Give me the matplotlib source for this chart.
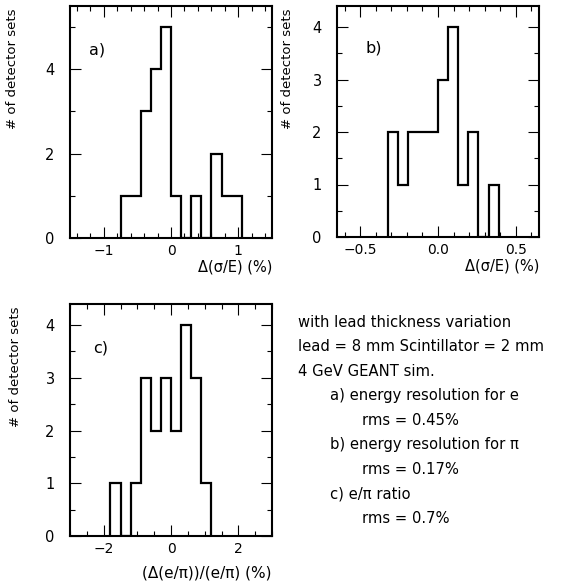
import matplotlib
matplotlib.use("Agg")
import matplotlib.pyplot as plt
from matplotlib.ticker import MultipleLocator

# --- data ---
a_edges = [-0.75, -0.6, -0.45, -0.3, -0.15, 0.0, 0.15, 0.3, 0.45, 0.6, 0.75, 0.9, 1.05]
a_counts = [1, 1, 3, 4, 5, 1, 0, 1, 0, 2, 1, 1]

b_edges = [-0.325, -0.26, -0.195, -0.13, -0.065, 0.0, 0.065, 0.13, 0.195, 0.26, 0.325, 0.39]
b_counts = [2, 1, 2, 2, 2, 3, 4, 1, 2, 0, 1]

c_edges = [-1.8, -1.5, -1.2, -0.9, -0.6, -0.3, 0.0, 0.3, 0.6, 0.9, 1.2]
c_counts = [1, 0, 1, 3, 2, 3, 2, 4, 3, 1]

xlab_ab = "Δ(σ/E) (%)"
xlab_c = "(Δ(e/π))/(e/π) (%)"
ylab = "# of detector sets"

notes = [
    (0, "with lead thickness variation"),
    (0, "lead = 8 mm Scintillator = 2 mm"),
    (0, "4 GeV GEANT sim."),
    (1, "a) energy resolution for e"),
    (2, "rms = 0.45%"),
    (1, "b) energy resolution for π"),
    (2, "rms = 0.17%"),
    (1, "c) e/π ratio"),
    (2, "rms = 0.7%"),
]

plt.rcParams["font.family"] = ["DejaVu Sans"]
fig = plt.figure(figsize=(5.63, 5.84), dpi=100)

W, H = 563.0, 584.0
def px_axes(left, top, right, bottom):
    return fig.add_axes([left / W, 1 - bottom / H, (right - left) / W, (bottom - top) / H])

ax_a = px_axes(70, 6, 272, 238)
ax_b = px_axes(337, 6, 539, 237)
ax_c = px_axes(70, 304, 272, 536)

panels = [
    (ax_a, a_edges, a_counts, (-1.5, 1.5), 5.5, 1.0, 0.2, 2, 1, xlab_ab, 10.5, "a)", (-1.1, 4.45), -0.25),
    (ax_b, b_edges, b_counts, (-0.65, 0.65), 4.4, 0.5, 0.1, 1, 0.5, xlab_ab, 10.5, "b)", (-0.414, 3.6), -0.215),
    (ax_c, c_edges, c_counts, (-3, 3), 4.4, 2.0, 0.5, 1, 0.5, xlab_c, 11, "c)", (-2.08, 3.56), -0.24),
]

for ax, edges, counts, xlim, ymax, xmaj, xmin, ymaj, ymin, xlab, xfs, tag, tpos, ylx in panels:
    ax.stairs(counts, edges, baseline=0, color="black", linewidth=1.6)
    ax.set_xlim(*xlim)
    ax.set_ylim(0, ymax)
    ax.xaxis.set_major_locator(MultipleLocator(xmaj))
    ax.xaxis.set_minor_locator(MultipleLocator(xmin))
    ax.yaxis.set_major_locator(MultipleLocator(ymaj))
    ax.yaxis.set_minor_locator(MultipleLocator(ymin))
    ax.tick_params(which="both", direction="in", top=True, right=True, width=0.8, labelsize=10.5)
    ax.tick_params(which="major", length=8)
    ax.tick_params(which="minor", length=3.5)
    ax.tick_params(axis="x", pad=4, labelsize=10)
    ax.tick_params(axis="y", pad=11)
    for s in ax.spines.values():
        s.set_linewidth(1.5)
    ax.set_xlabel(xlab, fontsize=xfs, loc="right")
    ax.set_ylabel(ylab, fontsize=9.5, loc="top")
    ax.yaxis.set_label_coords(ylx, 0.99)
    ax.text(tpos[0], tpos[1], tag, fontsize=11.5, ha="center", va="center")

ax_a.xaxis.set_label_coords(1.0, -0.092)
ax_b.xaxis.set_label_coords(1.0, -0.092)
ax_c.xaxis.set_label_coords(1.0, -0.125)

# annotation block on the lower right
y0 = 322.3
for i, (indent, line) in enumerate(notes):
    x = [298, 330, 362][indent]
    fig.text(x / W, 1 - (y0 + i * 24.5) / H, line, fontsize=10.6, ha="left", va="center")

fig.savefig("out.png", dpi=100)
